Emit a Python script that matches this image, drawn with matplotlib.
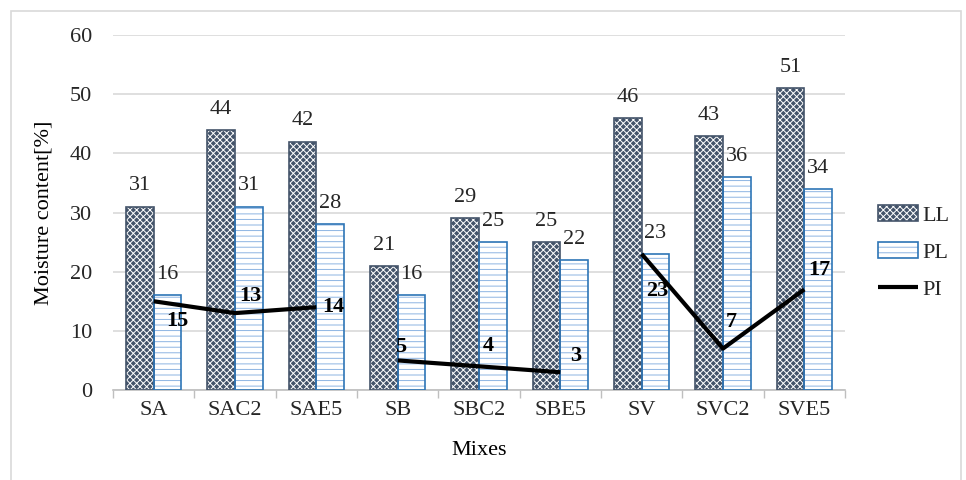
import numpy as np
import matplotlib.pyplot as plt
from matplotlib.patches import Rectangle

plt.rcParams['font.family'] = ['Liberation Serif', 'DejaVu Serif']
plt.rcParams['hatch.linewidth'] = 0.7
plt.rcParams['text.color'] = '#262626'
plt.rcParams['xtick.color'] = '#262626'
plt.rcParams['ytick.color'] = '#262626'

mixes = ['SA', 'SAC2', 'SAE5', 'SB', 'SBC2', 'SBE5', 'SV', 'SVC2', 'SVE5']
ll = [31, 44, 42, 21, 29, 25, 46, 43, 51]
pl = [16, 31, 28, 16, 25, 22, 23, 36, 34]
pi = [15, 13, 14, 5, 4, 3, 23, 7, 17]
groups = [[0, 1, 2], [3, 4, 5], [6, 7, 8]]

# label offsets for the PI values, in points
pi_offsets = [(17, -14), (11, 12), (12, 0), (2, 10), (7, 15), (11, 12),
              (11, -27), (6, 19), (11, 14)]

fig = plt.figure(figsize=(9.66, 4.8), dpi=100)
ax = fig.add_axes([0.117, 0.1875, 0.7577, 0.7395])

x = np.arange(len(mixes))
w = 0.34
dark = '#44546A'
blue = '#2E75B6'

b_ll = ax.bar(x - w / 2, ll, w, facecolor=dark, edgecolor='white', hatch='xxxxx', linewidth=0, zorder=2)
o_ll = ax.bar(x - w / 2, ll, w, fill=False, edgecolor=dark, linewidth=1.2, zorder=3)
b_pl = ax.bar(x + w / 2, pl, w, facecolor='white', edgecolor='#8DB4E2', hatch='---', linewidth=0, zorder=2)
o_pl = ax.bar(x + w / 2, pl, w, fill=False, edgecolor=blue, linewidth=1.2, zorder=3)

for xi, v in zip(x, ll):
    ax.annotate(str(v), (xi - w / 2, v), xytext=(0, 8), textcoords='offset points',
                ha='center', va='bottom', fontsize=16)
for xi, v in zip(x, pl):
    ax.annotate(str(v), (xi + w / 2, v), xytext=(0, 8), textcoords='offset points',
                ha='center', va='bottom', fontsize=16)

line = None
for g in groups:
    line, = ax.plot(x[g], [pi[i] for i in g], color='black', linewidth=3.0,
                    solid_capstyle='butt', zorder=4)
for xi, v, off in zip(x, pi, pi_offsets):
    ax.annotate(str(v), (xi, v), xytext=off, textcoords='offset points', color='black',
                ha='center', va='center', fontsize=16, fontweight='bold', zorder=5)

ax.set_xlim(-0.5, len(mixes) - 0.5)
ax.set_ylim(0, 60)
ax.set_yticks(range(0, 61, 10))
ax.set_xticks(x)
ax.set_xticklabels(mixes, fontsize=16)
ax.set_xticks(np.arange(-0.5, len(mixes)), minor=True)
ax.tick_params(axis='x', which='major', length=0, pad=8)
ax.tick_params(axis='x', which='minor', length=6, color='#BFBFBF', width=1)
ax.tick_params(axis='y', length=0, labelsize=16, pad=15)
ax.yaxis.grid(True, color='#D9D9D9', linewidth=1.2, zorder=0)
ax.set_axisbelow(True)
for s in ['top', 'right', 'left']:
    ax.spines[s].set_visible(False)
ax.spines['bottom'].set_color('#BFBFBF')
ax.spines['bottom'].set_linewidth(1.2)

ax.set_xlabel('Mixes', fontsize=16, labelpad=15)
ax.set_ylabel('Moisture content[%]', fontsize=16, labelpad=12)

fig.legend([(b_ll, o_ll), (b_pl, o_pl), line], ['LL', 'PL', 'PI'],
           loc='center left', bbox_to_anchor=(0.888, 0.474), frameon=False,
           fontsize=16, handlelength=1.8, handletextpad=0.2, labelspacing=0.75)

fig.patches.append(Rectangle((0.011, -0.02), 0.984, 0.997, transform=fig.transFigure,
                             fill=False, edgecolor='#D9D9D9', linewidth=1.2))

fig.savefig('out.png', dpi=100)
